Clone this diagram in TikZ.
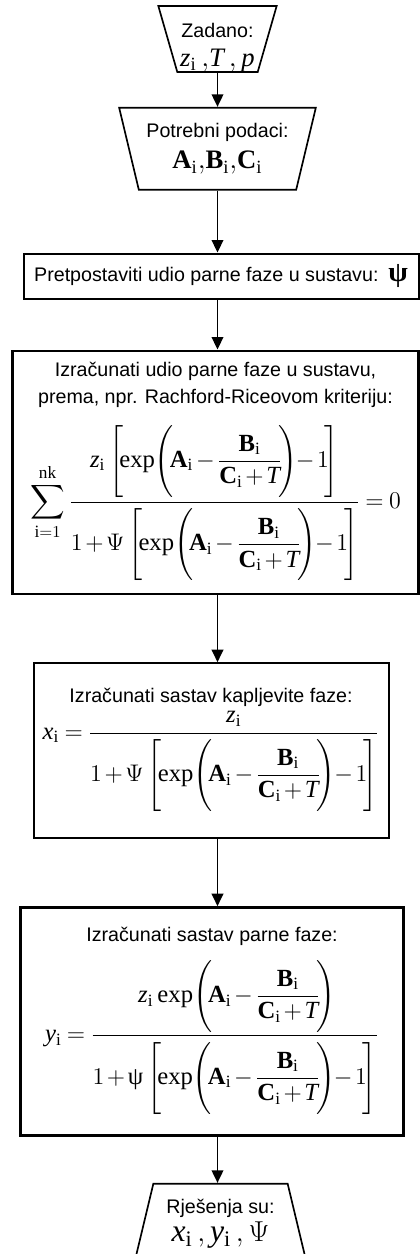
\documentclass[tikz,border=0pt]{standalone}
\usepackage{amsmath}
\usepackage{fontspec}
\setmainfont{Liberation Serif}
\setsansfont{Liberation Sans}
\setmathrm{Liberation Serif}
\usetikzlibrary{positioning,shapes.geometric,arrows.meta}

\newcommand{\zi}{\mathit{z}_{\mathrm{i}}}
\newcommand{\tallpar}{\rule[-17pt]{0pt}{42pt}}
\newcommand{\tallbrk}{\rule[-19pt]{0pt}{46pt}}
\newcommand{\expAB}{\exp\!\left(\!\tallpar\mathbf{A}_{\mathrm{i}}-\dfrac{\mathbf{B}_{\mathrm{i}}}{\mathbf{C}_{\mathrm{i}}+\mathit{T}}\!\right)\!}
\newcommand{\brkAB}{\left[\!\expAB-1\tallbrk\!\right]}
\newcommand{\eqsize}{\fontsize{14.8}{18}\selectfont\medmuskip=2mu\thickmuskip=4mu}

\tikzset{
  io/.style={trapezium, draw, line width=1pt, trapezium stretches=true, align=center, inner sep=0pt},
  proc/.style={rectangle, draw, line width=1.2pt, align=center, inner sep=0pt},
  thick proc/.style={proc, line width=1.6pt},
  flow/.style={-{Triangle[length=7.5pt,width=7pt]}, line width=0.9pt}
}

\begin{document}
\begin{tikzpicture}[x=0.6pt, y=-0.6pt, font=\sffamily\fontsize{11.8}{15}\selectfont]
\useasboundingbox (0,0) rectangle (420,1254);

\node[io, name=in1, shape border rotate=180, trapezium angle=75,
  minimum width=71.4pt, minimum height=39.6pt] at (217.5,39)
  {\rule{0pt}{19pt}Zadano:\\[2pt] {\fontsize{16}{18}\selectfont $\zi\,{,}\mathit{T}\,{,}\,\mathit{p}$}};
\node[io, name=in2, below=20.4pt of in1, shape border rotate=180, trapezium angle=71,
  minimum width=118.2pt, minimum height=49.2pt]
  {Potrebni podaci:\\[4pt] {\fontsize{16}{18}\selectfont $\mathbf{A}_{\mathrm{i}}{,}\mathbf{B}_{\mathrm{i}}{,}\mathbf{C}_{\mathrm{i}}$}};
\node[proc, name=guess, below=37.2pt of in2, xshift=2.1pt,
  minimum width=237pt, minimum height=27pt]
  {Pretpostaviti udio parne faze u sustavu:\enspace{\fontsize{17}{17}\selectfont\rmfamily\bfseries ψ}};
\node[thick proc, name=rr, below=30pt of guess, xshift=-3.3pt,
  minimum width=243.6pt, minimum height=145.8pt]
  {Izračunati udio parne faze u sustavu,\\[1pt] prema, npr. Rachford-Riceovom kriteriju:\\[8pt]
   {\eqsize $\displaystyle\sum_{\mathrm{i}=1}^{\mathrm{nk}}
   \frac{\zi\brkAB}{1+\Psi\brkAB}=0$}};
\node[proc, name=liq, below=40.2pt of rr, xshift=-2.7pt,
  minimum width=213pt, minimum height=105pt]
  {Izračunati sastav kapljevite faze:\\[2pt]
   {\eqsize $\displaystyle \mathit{x}_{\mathrm{i}}=\frac{\zi}{1+\Psi\brkAB}$}};
\node[thick proc, name=vap, below=40.2pt of liq, xshift=0.6pt,
  minimum width=229.8pt, minimum height=136.8pt]
  {Izračunati sastav parne faze:\\[8pt]
   {\eqsize $\displaystyle \mathit{y}_{\mathrm{i}}=\frac{\zi\expAB}{1+\text{\rmfamily ψ}\brkAB}$}};
\node[io, name=out, below=27.6pt of vap, xshift=5.1pt, trapezium angle=74,
  minimum width=108pt, minimum height=55.8pt]
  {Rješenja su:\\[2pt] {\fontsize{19}{21}\selectfont $\mathit{x}_{\mathrm{i}}\,{,}\,\mathit{y}_{\mathrm{i}}\,{,}\,\Psi$\rule[-12pt]{0pt}{0pt}}};

\draw[flow] (in1.south) -- (in1.south |- in2.north);
\draw[flow] (in2.south -| in1) -- (guess.north -| in1);
\draw[flow] (guess.south -| in1) -- (rr.north -| in1);
\draw[flow] (rr.south -| in1) -- (liq.north -| in1);
\draw[flow] (liq.south -| in1) -- (vap.north -| in1);
\draw[flow] (vap.south -| in1) -- (out.north -| in1);

\end{tikzpicture}
\end{document}
